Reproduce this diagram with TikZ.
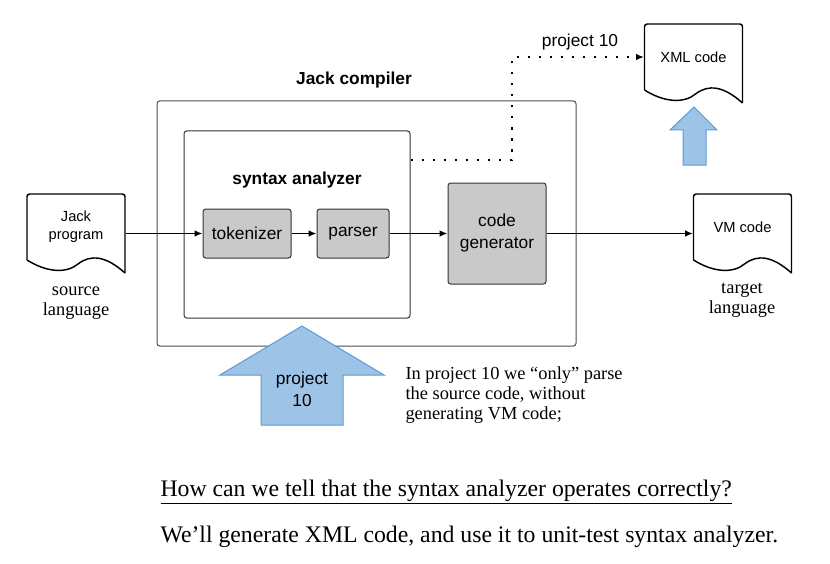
\documentclass[tikz,border=0pt]{standalone}
\usepackage{fontspec}
\setmainfont{Liberation Serif}
\setsansfont{Liberation Sans}
\usetikzlibrary{arrows.meta}

\tikzset{every picture/.style={line width=0.75pt}}
\tikzset{
  unit/.style={draw=black!80, fill=black!21, rounded corners=2pt, inner sep=0pt,
    font=\sffamily\fontsize{13}{16.5}\selectfont, align=center},
  frame/.style={draw=black!80, rounded corners=2pt, inner sep=0pt},
  title/.style={font=\sffamily\bfseries\fontsize{13}{16}\selectfont, inner sep=0pt},
  label/.style={font=\sffamily\fontsize{13}{16.5}\selectfont, align=center, inner sep=0pt},
  docnode/.style={minimum width=73.5pt, minimum height=49.5pt, inner sep=0pt,
    font=\sffamily\fontsize{11}{13.5}\selectfont, align=center},
  flow/.style={-{Latex[length=6pt,width=5pt]}, line width=1.1pt},
  dots/.style={line width=2.1pt, dash pattern=on 2.1pt off 6.15pt, -{Latex[length=6pt,width=5pt]}},
  bluearrow/.style={fill={rgb,255:red,157;green,195;blue,230}, draw={rgb,255:red,91;green,155;blue,213}, line width=0.75pt},
  note/.style={font=\fontsize{13.8}{15}\selectfont, align=left, inner sep=0pt}
}
% page with a wavy lower edge, centred at (#1,#2)
\newcommand\docshape[2]{%
  \begin{scope}[shift={(#1,#2)}]
    \draw[line width=1.1pt, rounded corners=2pt] (-49,33) -- (-49,-33) -- (49,-33) -- (49,46);
    \draw[line width=1.1pt] (49,46) .. controls (30,29) and (15,27) .. (2,37) .. controls (-10,47) and (-30,45) .. (-49,33);
  \end{scope}}

\begin{document}
\begin{tikzpicture}[x=0.75pt,y=0.75pt,yscale=-1,xscale=1]
  \useasboundingbox (0,0) rectangle (830,563);

  %Shape: Jack compiler frame
  \node[frame, draw=black!70, minimum width=314.25pt, minimum height=183.75pt] (comp) at (366.5,223.5) {};
  \node[title] (comptitle) at (354,80) {Jack compiler};
  %Shape: syntax analyzer frame
  \node[frame, minimum width=169.5pt, minimum height=140.25pt] (syn) at (297,224.5) {};
  \node[title] (syntitle) at (297,180) {syntax analyzer};

  %Shape: units
  \node[unit, minimum width=66pt, minimum height=36.75pt] (tok) at (247,233.5) {tokenizer};
  \node[unit, minimum width=54pt, minimum height=36.75pt] (par) at (353,233.5) {parser};
  \node[unit, minimum width=73.5pt, minimum height=75.75pt] (gen) at (497,233.5) {code\\generator};

  %Shape: documents
  \docshape{76}{227}
  \node[docnode] (jack) at (76,227) {Jack\\program};
  \docshape{742.5}{227}
  \node[docnode] (vm) at (742.5,227) {VM code};
  \docshape{693.5}{57}
  \node[docnode] (xml) at (693.5,57) {XML code};

  %Straight Lines
  \draw[flow] (jack.east |- tok.west) -- (tok.west);
  \draw[flow] (tok) -- (par);
  \draw[flow] (par) -- (gen);
  \draw[flow] (gen) -- (vm.west |- gen.east);
  \coordinate (bend) at (512,160);
  \draw[dots] (syn.east |- bend) -- (bend) |- (xml.west);
  \node[label] (dotlabel) at (580,42) {project 10};

  %Shape: blue arrows
  \draw[bluearrow] (302,326) -- (384,375) -- (343,375) -- (343,425) -- (261,425) -- (261,375) -- (220,375) -- cycle;
  \node[label] (proj) at (302,389) {project\\10};
  \draw[bluearrow] (694,107) -- (717,130) -- (706,130) -- (706,165) -- (683,165) -- (683,130) -- (670,130) -- cycle;

  % Text Node
  \node[note, align=center] (srclang) at (76,303) {source\\language};
  % Text Node
  \node[note, align=center] (tgtlang) at (742,300.5) {target\\language};
  % Text Node
  \node[note, anchor=west] (remark) at (405,395) {In project 10 we “only” parse\\the source code, without\\generating VM code;};
  % Text Node
  \node[anchor=west, inner sep=0pt, font=\fontsize{17.8}{21}\selectfont] (question) at (160,492) {\underline{How can we tell that the syntax analyzer operates correctly?}};
  % Text Node
  \node[anchor=west, inner sep=0pt, font=\fontsize{17.8}{21}\selectfont] (answer) at (160,537) {We’ll generate XML code, and use it to unit-test syntax analyzer.};
\end{tikzpicture}
\end{document}
